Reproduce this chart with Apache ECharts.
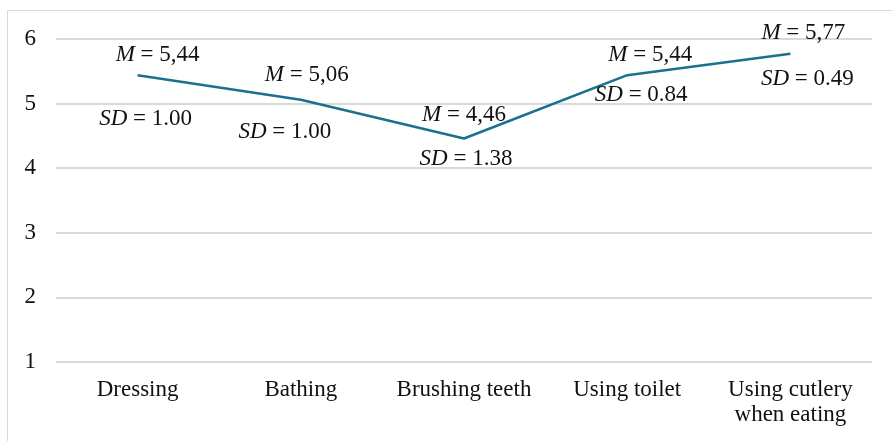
<!DOCTYPE html>
<html><head><meta charset="utf-8">
<script src="https://cdn.jsdelivr.net/npm/echarts@6/dist/echarts.min.js"></script>
<style>html,body{margin:0;padding:0;background:#fff}#c{width:892px;height:441px}</style>
</head><body><div id="c"></div>
<script>
const categories = ['Dressing', 'Bathing', 'Brushing teeth', 'Using toilet', 'Using cutlery\nwhen eating'];
const means = [5.44, 5.06, 4.46, 5.44, 5.77];
const meanLabels = ['5,44', '5,06', '4,46', '5,44', '5,77'];
const sdLabels = ['1.00', '1.00', '1.38', '0.84', '0.49'];
const yTicks = [1, 2, 3, 4, 5, 6];

const FONT = '"Liberation Serif", "Times New Roman", serif';
const FS = 23;
const TXT = '#111111';
const mOff = [[20, -20], [6, -25], [0, -24], [23, -20], [13, -21]];
const sdOff = [[8, 44], [-16, 32], [2, 20], [14, 20], [17, 25]];
const seg = { fontFamily: FONT, fontSize: FS, color: TXT };
const rich = {
  i: Object.assign({}, seg, { fontStyle: 'italic' }),
  n: Object.assign({}, seg)
};
function lbl(off, text) {
  return { show: true, position: 'inside', offset: off, color: TXT, opacity: 1,
    fontSize: FS, fontFamily: FONT, formatter: text, rich: rich };
}
const chart = echarts.init(document.getElementById('c'));
chart.setOption({
  animation: false,
  graphic: [{ type: 'rect', shape: { x: 7.5, y: 10.5, width: 900, height: 450 }, style: { fill: 'none', stroke: '#d9d9d9', lineWidth: 1 }, silent: true }],
  grid: { left: 56, right: 20, top: 39, bottom: 79 },
  xAxis: {
    type: 'category', data: categories, boundaryGap: true,
    axisLine: { show: false }, axisTick: { show: false },
    axisLabel: { fontFamily: FONT, fontSize: FS, color: TXT, margin: 15, lineHeight: 25, interval: 0 }
  },
  yAxis: {
    type: 'value', min: yTicks[0], max: yTicks[yTicks.length - 1], interval: 1,
    axisLine: { show: false }, axisTick: { show: false },
    axisLabel: { fontFamily: FONT, fontSize: FS, color: TXT, margin: 20 },
    splitLine: { lineStyle: { color: '#d9d9d9', width: 2 } }
  },
  series: [
    {
      type: 'line', symbol: 'circle', symbolSize: 0, showSymbol: true,
      itemStyle: { color: '#19708f' },
      lineStyle: { color: '#19708f', width: 2.5 },
      data: means.map((v, i) => ({ value: v, label: lbl(mOff[i], '{i|M}{n| = ' + meanLabels[i] + '}') })),
      z: 2
    },
    {
      type: 'line', symbol: 'circle', symbolSize: 0, showSymbol: true,
      itemStyle: { color: '#19708f' },
      lineStyle: { width: 0, opacity: 0 },
      data: means.map((v, i) => ({ value: v, label: lbl(sdOff[i], '{i|SD}{n| = ' + sdLabels[i] + '}') })),
      z: 3
    }
  ]
});
</script></body></html>
